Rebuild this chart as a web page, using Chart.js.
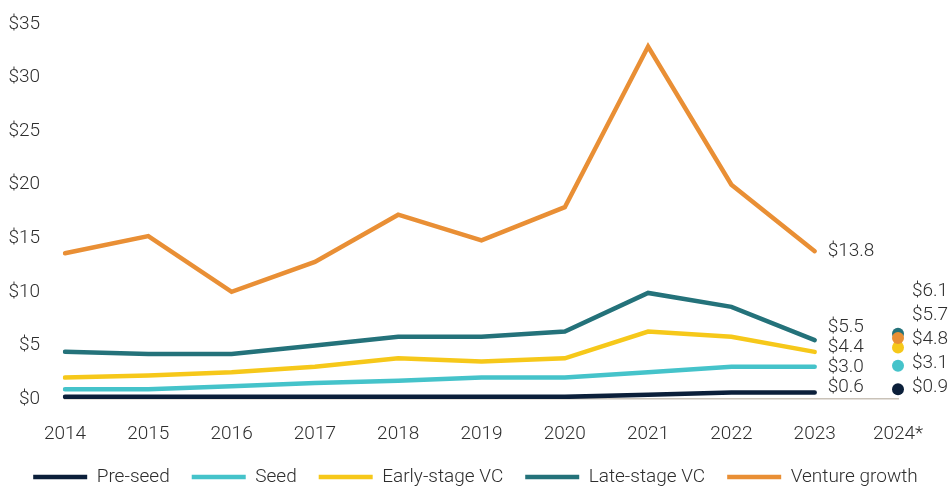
<!DOCTYPE html>
<html>
<head>
<meta charset="utf-8">
<script src="https://cdn.jsdelivr.net/npm/chart.js@4.4.1/dist/chart.umd.min.js"></script>
<style>
html, body { margin: 0; padding: 0; background: #fff; }
#wrap { width: 951px; height: 489px; }
</style>
</head>
<body>
<div id="wrap"><canvas id="fundingchart"></canvas></div>
<script>
const years = ['2014', '2015', '2016', '2017', '2018', '2019', '2020', '2021', '2022', '2023', '2024*'];
const seriesNames = ['Pre-seed', 'Seed', 'Early-stage VC', 'Late-stage VC', 'Venture growth'];
const preSeed = [0.2, 0.2, 0.2, 0.2, 0.2, 0.2, 0.2, 0.4, 0.6, 0.6];
const seed = [0.9, 0.9, 1.2, 1.5, 1.7, 2.0, 2.0, 2.5, 3.0, 3.0];
const earlyStage = [2.0, 2.2, 2.5, 3.0, 3.8, 3.5, 3.8, 6.3, 5.8, 4.4];
const lateStage = [4.4, 4.2, 4.2, 5.0, 5.8, 5.8, 6.3, 9.9, 8.6, 5.5];
const ventureGrowth = [13.6, 15.2, 10.0, 12.8, 17.2, 14.8, 17.9, 32.9, 20.0, 13.8];
// 2024* values, same order as seriesNames
const ytd2024 = [0.9, 3.1, 4.8, 6.1, 5.7];
const yTicks = [0, 5, 10, 15, 20, 25, 30, 35];

const colors = ['#0b1f3a', '#45c3ca', '#f6c81a', '#24727a', '#e98f35'];
const FONT = 'Roboto, "DejaVu Sans Condensed", sans-serif';
const TEXT = '#2e2e2e';

const allSeries = [preSeed, seed, earlyStage, lateStage, ventureGrowth];

const lineSets = allSeries.map((d, i) => ({
    label: seriesNames[i],
    data: d,
    borderColor: colors[i],
    backgroundColor: colors[i],
    borderWidth: 4.5,
    borderCapStyle: 'round',
    pointRadius: 0,
    tension: 0
}));

// 2024* is shown as dots only
const dotSets = ytd2024.map((v, i) => ({
    label: seriesNames[i] + ' 2024*',
    data: years.map((y, j) => (j === years.length - 1 ? v : null)),
    showLine: false,
    pointRadius: 6,
    pointBorderWidth: 0,
    pointBackgroundColor: colors[i],
    order: i === 4 ? -1 : 0
}));

// value labels at the end of the lines and next to the 2024* dots
const endLabels = {
    id: 'endLabels',
    afterDatasetsDraw(chart) {
        const {ctx, chartArea} = chart;
        const xs = chart.scales.x, ys = chart.scales.y;
        ctx.save();
        ctx.font = '300 19px ' + FONT;
        ctx.fillStyle = TEXT;
        ctx.textAlign = 'left';
        ctx.textBaseline = 'middle';
        function column(index, values, gap, dx) {
            const items = values.map(v => ({v, py: ys.getPixelForValue(v)}))
                .sort((a, b) => b.py - a.py);
            let prev = chartArea.bottom - 12 + gap;
            items.forEach(it => {
                const ty = Math.min(it.py, prev - gap);
                prev = ty;
                ctx.fillText('$' + it.v.toFixed(1), xs.getPixelForValue(index) + dx, ty);
            });
        }
        const last = preSeed.length - 1;
        column(last, allSeries.map(s => s[last]), 20, 13);
        column(years.length - 1, ytd2024, 24, 14);
        ctx.restore();
    }
};

const tickFont = { family: FONT, size: 19, weight: 300 };

const ctx = document.getElementById('fundingchart').getContext('2d');
const fundingChart = new Chart(ctx, {
    type: 'line',
    data: {
        labels: years,
        datasets: lineSets.concat(dotSets)
    },
    options: {
        responsive: true,
        maintainAspectRatio: false,
        animation: false,
        layout: { padding: { left: 0, right: 0, top: 24, bottom: 0 } },
        scales: {
            x: {
                offset: false,
                afterFit: (scale) => { scale.height = 46.5; },
                grid: { display: false, drawTicks: false },
                border: { display: true, color: '#c9c2b8', width: 1.5 },
                ticks: { padding: 24, color: TEXT, font: tickFont, maxRotation: 0 }
            },
            y: {
                min: 0,
                max: 35,
                afterBuildTicks: (scale) => { scale.ticks = yTicks.map(v => ({value: v})); },
                afterFit: (scale) => {
                    scale.width = 65;
                    scale.paddingTop = 0;
                    scale.paddingBottom = 0;
                },
                grid: { display: false, drawTicks: false },
                border: { display: false },
                ticks: {
                    padding: 25,
                    color: TEXT,
                    font: tickFont,
                    callback: (v) => '$' + v
                }
            },
            // empty right-hand axis that only reserves room for the value labels
            yRoom: {
                position: 'right',
                min: 0,
                max: 35,
                afterFit: (scale) => { scale.width = 53; },
                grid: { display: false, drawTicks: false },
                border: { display: false },
                ticks: { display: false }
            }
        },
        plugins: {
            tooltip: { enabled: false },
            legend: {
                position: 'bottom',
                maxHeight: 43.5,
                labels: {
                    filter: (item) => item.datasetIndex < seriesNames.length,
                    usePointStyle: true,
                    pointStyle: 'line',
                    pointStyleWidth: 54,
                    padding: 22,
                    color: TEXT,
                    font: tickFont
                }
            }
        }
    },
    plugins: [endLabels]
});
</script>
</body>
</html>
